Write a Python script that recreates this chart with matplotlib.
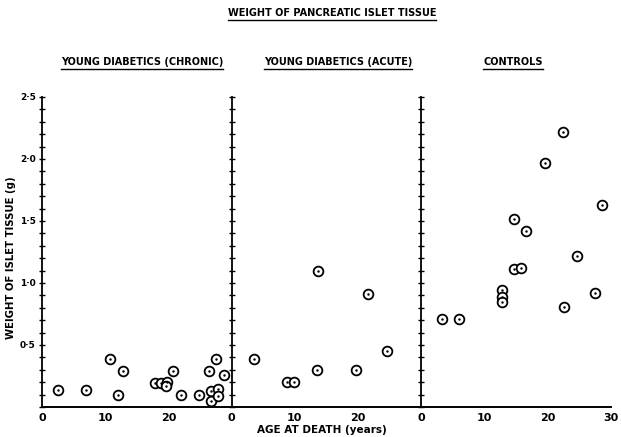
import matplotlib.pyplot as plt
from matplotlib.lines import Line2D
from matplotlib.ticker import MultipleLocator, FixedLocator

# Age at death (years) and islet tissue weight (g) per group
chronic_age = [2.5, 7.0, 10.7, 12.0, 12.8, 17.9, 18.8, 19.8, 19.7, 20.7, 22.0, 24.8,
               26.5, 26.7, 26.7, 27.6, 27.8, 27.9, 28.75]
chronic_wt = [0.14, 0.14, 0.39, 0.10, 0.29, 0.19, 0.19, 0.20, 0.17, 0.29, 0.10, 0.10,
              0.29, 0.13, 0.05, 0.39, 0.145, 0.09, 0.26]

acute_age = [3.6, 8.85, 9.95, 13.7, 13.6, 19.7, 21.6, 24.6]
acute_wt = [0.39, 0.20, 0.20, 1.10, 0.295, 0.30, 0.91, 0.45]

control_age = [3.4, 6.0, 12.8, 12.8, 12.8, 14.8, 15.9, 14.7, 16.7, 19.7, 22.5, 22.7,
               24.7, 27.6, 28.6]
control_wt = [0.71, 0.71, 0.94, 0.89, 0.85, 1.11, 1.12, 1.52, 1.42, 1.97, 2.22, 0.81,
              1.22, 0.92, 1.63]

panel_titles = ["YOUNG DIABETICS (CHRONIC)", "YOUNG DIABETICS (ACUTE)", "CONTROLS"]
ytick_vals = [0.5, 1.0, 1.5, 2.0, 2.5]
ytick_text = ["0·5", "1·0", "1·5", "2·0", "2·5"]

plt.rcParams['font.family'] = 'DejaVu Sans'
plt.rcParams['font.weight'] = 'bold'

fig = plt.figure(figsize=(6.21, 4.37), dpi=100)
left, bottom, height = 42 / 621, 30 / 437, 310 / 437
pw = 189.5 / 621

groups = [(chronic_age, chronic_wt), (acute_age, acute_wt), (control_age, control_wt)]
axes = []
for i, (ages, wts) in enumerate(groups):
    ax = fig.add_axes([left + i * pw, bottom, pw, height])
    ax.set_xlim(0, 30)
    ax.set_ylim(0, 2.5)
    for s in ["top", "right"]:
        ax.spines[s].set_visible(False)
    ax.spines["left"].set_linewidth(1.3)
    ax.spines["bottom"].set_linewidth(1.4)
    ax.yaxis.set_minor_locator(MultipleLocator(0.1))
    ax.yaxis.set_major_locator(FixedLocator(ytick_vals))
    ax.tick_params(axis="y", which="both", direction="inout", length=4, width=1, pad=2.5)
    ax.tick_params(axis="x", length=0, pad=4, labelsize=8)
    if i == 2:
        ax.set_xticks([0, 10, 20, 30])
    else:
        ax.set_xticks([0, 10, 20])
    if i == 0:
        ax.set_yticklabels(ytick_text, fontsize=6.5)
    else:
        ax.set_yticklabels([])
    ax.plot(ages, wts, "o", ms=7, mfc="white", mec="black", mew=1.3, clip_on=False, zorder=3)
    ax.plot(ages, wts, ".", ms=1.5, color="black", clip_on=False, zorder=4)
    axes.append(ax)

fig.text(11 / 621, 1 - 258 / 437, "WEIGHT OF ISLET TISSUE (g)", rotation=90,
         ha="center", va="center", fontsize=7.3)
fig.text(322 / 621, 1 - 430 / 437, "AGE AT DEATH (years)", ha="center", va="center", fontsize=7.5)

# titles with underlines
labels = [fig.text(332 / 621, 1 - 13 / 437, "WEIGHT OF PANCREATIC ISLET TISSUE",
                   ha="center", va="center", fontsize=7)]
for x, t in zip([142, 338, 513], panel_titles):
    labels.append(fig.text(x / 621, 1 - 62 / 437, t, ha="center", va="center", fontsize=7))

fig.canvas.draw()
renderer = fig.canvas.get_renderer()
inv = fig.transFigure.inverted()
for t in labels:
    bb = t.get_window_extent(renderer)
    (x0, y0), (x1, _) = inv.transform([(bb.x0, bb.y0 - 1.5), (bb.x1, bb.y0)])
    fig.add_artist(Line2D([x0, x1], [y0, y0], color="black", lw=1.0, transform=fig.transFigure))

fig.savefig("out.png", dpi=100)
